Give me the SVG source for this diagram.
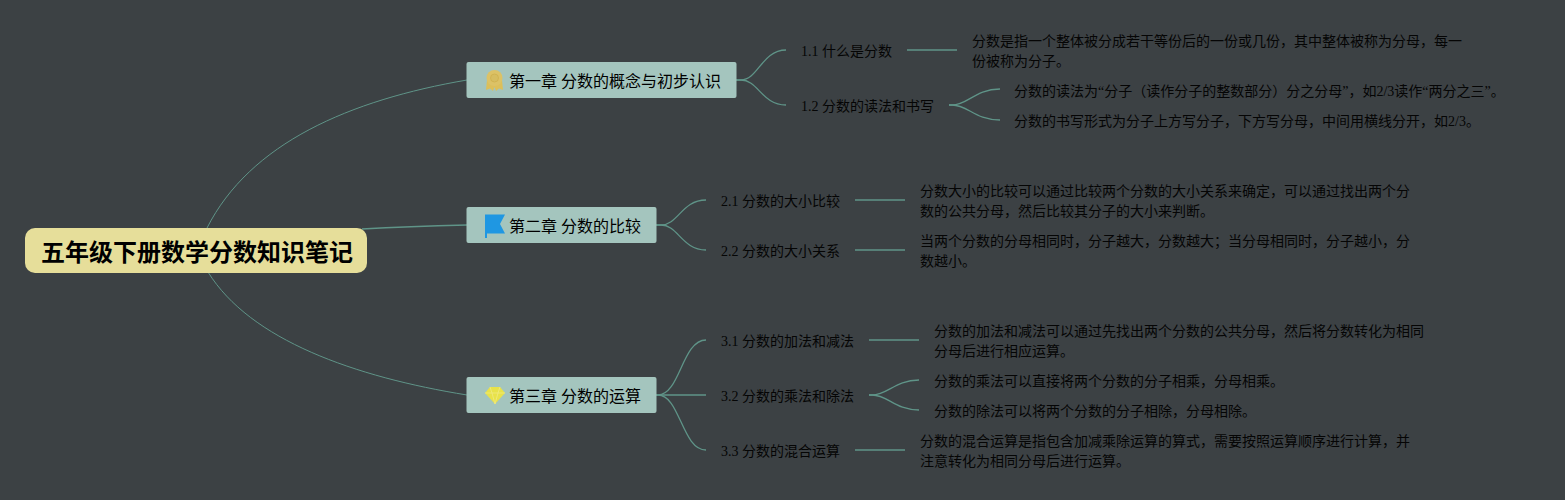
<svg xmlns="http://www.w3.org/2000/svg" width="1565" height="500" viewBox="0 0 1565 500">
<style>
text{font-family:"Liberation Serif","Noto Sans CJK SC",serif;fill:#000}
.l,.s{font-size:14px;fill:#050505}
.t{font-size:16px;fill:#000}
.r{font-size:24px;font-weight:700;fill:#000}
.tb{fill:#a4c5be}
.c path{fill:none;stroke:#5f9488;stroke-width:1}
.c .m{stroke-width:1.3}
</style>
<rect width="1565" height="500" fill="#3c4144"/>
<g id="connectors" class="c">
<path d="M207 228C250 143 350 100 467 80"/>
<path class="m" d="M362 229C400 227 430 226 467 225"/>
<path d="M208 272C250 340 355 377 467 395"/>
<path class="m" d="M736 80H741C758 80 762 50 786 50"/>
<path class="m" d="M736 80H741C758 80 762 105 786 105"/>
<path class="m" d="M907 50H957"/>
<path class="m" d="M949 105H952C968 105 975 89 1000 89"/>
<path class="m" d="M949 105H952C968 105 975 120 1000 120"/>
<path class="m" d="M656 225H661C678 225 682 200 706 200"/>
<path class="m" d="M656 225H661C678 225 682 250 706 250"/>
<path class="m" d="M855 200H905"/>
<path class="m" d="M855 250H905"/>
<path class="m" d="M656 395H658C680 395 682 340 706 340"/>
<path class="m" d="M656 395H706"/>
<path class="m" d="M656 395H658C680 395 682 450 706 450"/>
<path class="m" d="M869 340H919"/>
<path class="m" d="M869 395H872C888 395 895 380 919 380"/>
<path class="m" d="M869 395H872C888 395 895 410 919 410"/>
<path class="m" d="M855 450H905"/>
</g>
<g id="root"><rect x="25" y="228" width="342" height="45" rx="10" fill="#e6de9a"/><text class="r" x="41" y="261">五年级下册数学分数知识笔记</text></g>
<g id="topic1"><rect class="tb" x="466.500" y="62" width="270" height="36" rx="2"/>
<path d="M487 80L486 90L490 88.500L493 91L494.500 87L496 91L499 88.500L503 90L502 80Z" fill="#dcbf5a"/><circle cx="494.500" cy="78" r="8" fill="#dcc266"/><circle cx="494.500" cy="78" r="4" fill="#d6bd60" stroke="#cfb04c" stroke-width=".8"/>
<text class="t" x="509" y="87">第一章 分数的概念与初步认识</text></g>
<g id="topic2"><rect class="tb" x="466.500" y="207" width="190" height="36" rx="2"/>
<path d="M485 214.500H505L500 224L505 233.500H487V238H485Z" fill="#1f97e2"/>
<text class="t" x="509" y="232">第二章 分数的比较</text></g>
<g id="topic3"><rect class="tb" x="466.500" y="377" width="190" height="36" rx="2"/>
<path d="M490 387H500L505 393L495 404L485 393Z" fill="#e8e24a"/><path d="M485 393H505M490 387L492 393L495 404L498 393L500 387" fill="none" stroke="#f0ea80" stroke-width=".8"/>
<text class="t" x="509" y="402">第三章 分数的运算</text></g>
<g id="n11"><text class="s" x="801" y="56">1.1 什么是分数</text></g>
<g id="n11a"><text class="l" x="972" y="46">分数是指一个整体被分成若干等份后的一份或几份，其中整体被称为分母，每一</text><text class="l" x="972" y="66">份被称为分子。</text></g>
<g id="n12"><text class="s" x="801" y="111">1.2 分数的读法和书写</text></g>
<g id="n12a"><text class="l" x="1014" y="96">分数的读法为“分子（读作分子的整数部分）分之分母”，如2/3读作“两分之三”。</text></g>
<g id="n12b"><text class="l" x="1014" y="126">分数的书写形式为分子上方写分子，下方写分母，中间用横线分开，如2/3。</text></g>
<g id="n21"><text class="s" x="721" y="206">2.1 分数的大小比较</text></g>
<g id="n21a"><text class="l" x="920" y="196">分数大小的比较可以通过比较两个分数的大小关系来确定，可以通过找出两个分</text><text class="l" x="920" y="216">数的公共分母，然后比较其分子的大小来判断。</text></g>
<g id="n22"><text class="s" x="721" y="256">2.2 分数的大小关系</text></g>
<g id="n22a"><text class="l" x="920" y="246">当两个分数的分母相同时，分子越大，分数越大；当分母相同时，分子越小，分</text><text class="l" x="920" y="266">数越小。</text></g>
<g id="n31"><text class="s" x="721" y="346">3.1 分数的加法和减法</text></g>
<g id="n31a"><text class="l" x="934" y="336">分数的加法和减法可以通过先找出两个分数的公共分母，然后将分数转化为相同</text><text class="l" x="934" y="356">分母后进行相应运算。</text></g>
<g id="n32"><text class="s" x="721" y="401">3.2 分数的乘法和除法</text></g>
<g id="n32a"><text class="l" x="934" y="386">分数的乘法可以直接将两个分数的分子相乘，分母相乘。</text></g>
<g id="n32b"><text class="l" x="934" y="416">分数的除法可以将两个分数的分子相除，分母相除。</text></g>
<g id="n33"><text class="s" x="721" y="456">3.3 分数的混合运算</text></g>
<g id="n33a"><text class="l" x="920" y="446">分数的混合运算是指包含加减乘除运算的算式，需要按照运算顺序进行计算，并</text><text class="l" x="920" y="466">注意转化为相同分母后进行运算。</text></g>
</svg>
